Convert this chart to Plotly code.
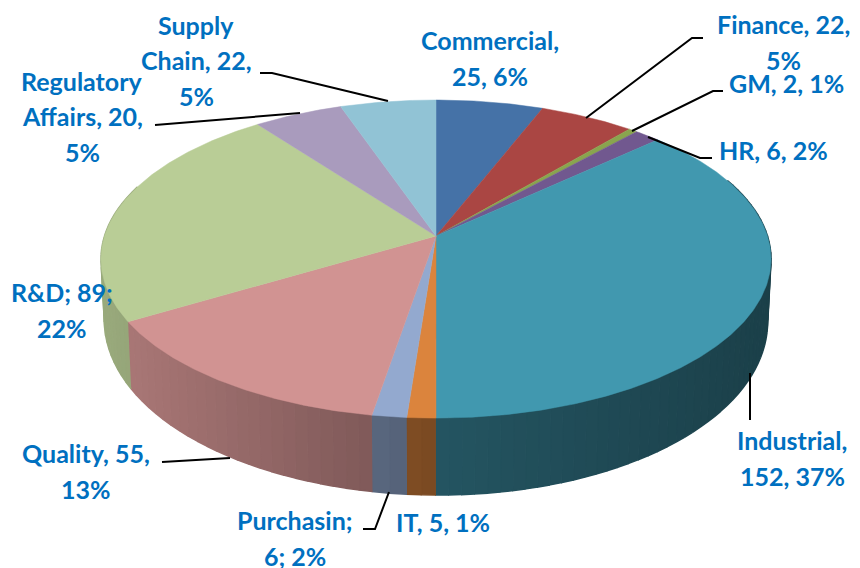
import numpy as np
import plotly.graph_objects as go

categories = ["Commercial", "Finance", "GM", "HR", "Industrial", "IT", "Purchasin", "Quality", "R&D", "Regulatory Affairs", "Supply Chain"]
values = [25, 22, 2, 6, 152, 5, 6, 55, 89, 20, 22]
colors = ["#4572a7", "#aa4643", "#89a54e", "#71588f", "#4198af", "#db843d", "#93a9cf", "#d19392", "#b9cd96", "#a99bbd", "#91c3d5"]

label_lines = [
    ["Commercial,", "25, 6%"], ["Finance, 22,", "5%"], ["GM, 2, 1%"], ["HR, 6, 2%"],
    ["Industrial,", "152, 37%"], ["IT, 5, 1%"], ["Purchasin;", "6; 2%"], ["Quality, 55,", "13%"],
    ["R&D; 89;", "22%"], ["Regulatory", "Affairs, 20,", "5%"], ["Supply", "Chain, 22,", "5%"],
]
label_pos = [(490, 58), (783, 42), (786, 83), (773, 150), (792, 458), (443, 522), (295, 538),
             (86, 471), (62, 310), (82, 116), (196, 60)]
leaders = [
    [(586, 118), (692, 38), (703, 38)],
    [(632, 131), (713, 91), (723, 91)],
    [(648, 137), (700, 158), (712, 158)],
    [(750, 373), (750, 420)],
    [(389, 492), (375, 529), (363, 529)],
    [(230, 458), (162, 462)],
    [(300, 113), (155, 125)],
    [(388, 101), (272, 73), (260, 73)],
]

CX, CY = 436, 236
K, A, B = 0.145, 155.7, 331.5


def warp(t):
    r = np.radians(t)
    return t - 2.15 * (1 - np.cos(r)) - np.sin(2 * r)


def top_xy(t):
    r = np.radians(warp(np.asarray(t, float)))
    s = 1 / (1 + K * np.cos(r))
    return CX + B * np.sin(r) * s, CY - A * np.cos(r) * s


def bottom_xy(t):
    x, y = top_xy(t)
    r = np.radians(np.asarray(t, float))
    return CX + (x - CX) * 0.99, y + 59 - 18 * np.cos(r)


def shade(hex_color, x):
    f = np.interp(x, [105, 436, 771], [0.83, 0.56, 0.42])
    rgb = [int(hex_color[i:i + 2], 16) for i in (1, 3, 5)]
    return "rgb({},{},{})".format(*[int(c * f) for c in rgb])


total = sum(values)
edges = np.concatenate([[0], np.cumsum(values)]) * 360 / total

fig = go.Figure()

# side wall, sliced so that the shade follows the horizontal position
for v, col, a0, a1 in zip(values, colors, edges[:-1], edges[1:]):
    lo, hi = max(a0, 70), min(a1, 290)
    if hi <= lo:
        continue
    n = max(1, int((hi - lo) / 2))
    ts = np.linspace(lo, hi, n + 1)
    for t0, t1 in zip(ts[:-1], ts[1:]):
        x0, y0 = top_xy([t0, t1])
        x1, y1 = bottom_xy([t1, t0])
        c = shade(col, (x0.mean() + x1.mean()) / 2)
        fig.add_trace(go.Scatter(x=list(x0) + list(x1), y=list(y0) + list(y1), mode="lines",
                                 fill="toself", fillcolor=c, line=dict(color=c, width=1.5),
                                 hoverinfo="skip", showlegend=False))

# top face
for name, v, col, a0, a1 in zip(categories, values, colors, edges[:-1], edges[1:]):
    ts = np.linspace(a0, a1, max(3, int(a1 - a0) * 2))
    x, y = top_xy(ts)
    fig.add_trace(go.Scatter(x=[CX] + list(x) + [CX], y=[CY] + list(y) + [CY], mode="lines",
                             fill="toself", fillcolor=col, line=dict(color=col, width=0.5),
                             name=name, showlegend=False))

for pts in leaders:
    fig.add_trace(go.Scatter(x=[p[0] for p in pts], y=[p[1] for p in pts], mode="lines",
                             line=dict(color="black", width=2), hoverinfo="skip", showlegend=False))

STEP = 35.5
for lines, (lx, ly) in zip(label_lines, label_pos):
    for i, line in enumerate(lines):
        fig.add_annotation(x=lx, y=ly + (i - (len(lines) - 1) / 2) * STEP, text=line, showarrow=False,
                           xanchor="center", yanchor="middle",
                           font=dict(family="Lato", size=25, color="#0070c0", weight="bold"))

fig.update_layout(width=860, height=568, margin=dict(l=0, r=0, t=0, b=0),
                  paper_bgcolor="white", plot_bgcolor="white",
                  xaxis=dict(range=[0, 860], visible=False, fixedrange=True),
                  yaxis=dict(range=[568, 0], visible=False, fixedrange=True))
fig.write_html("out.html", config=dict(displayModeBar=False),
               post_script="document.body.style.margin='0';document.documentElement.style.overflow='hidden';")
